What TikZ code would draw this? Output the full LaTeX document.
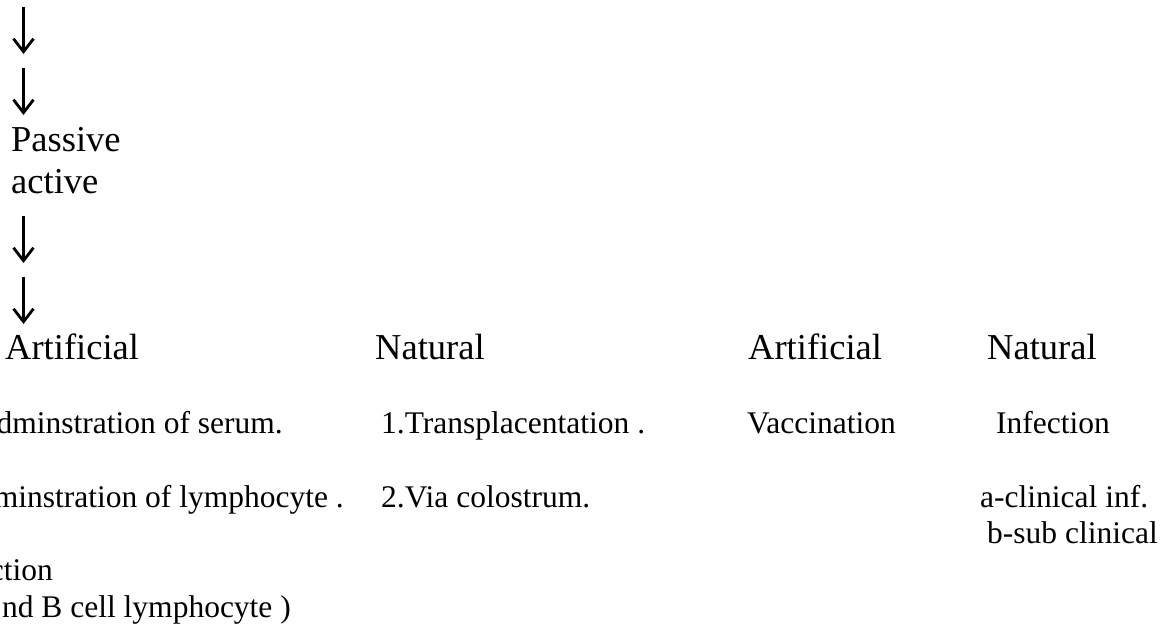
\documentclass[tikz,border=0pt]{standalone}
\usepackage{fontspec}
\setmainfont{Liberation Serif}
\usetikzlibrary{arrows.meta}
\tikzset{
  big/.style={inner sep=0pt, anchor=base west, font=\fontsize{36.5}{42}\selectfont},
  small/.style={inner sep=0pt, anchor=base west, font=\fontsize{31.5}{36}\selectfont},
  smallr/.style={inner sep=0pt, anchor=base east, font=\fontsize{31.5}{36}\selectfont},
  downarrow/.style={line width=2.3pt, -{Straight Barb[length=13pt,width=20pt,line width=2.8pt]}}
}
\begin{document}
\begin{tikzpicture}[x=1pt,y=-1pt]
\useasboundingbox (0,0) rectangle (1166,624);
% arrows
\coordinate (a1s) at (23.5,7);   \coordinate (a1e) at (23.5,54);
\coordinate (a2s) at (23.5,68);  \coordinate (a2e) at (23.5,115);
\coordinate (a3s) at (23.5,216); \coordinate (a3e) at (23.5,263);
\coordinate (a4s) at (23.5,277); \coordinate (a4e) at (23.5,324);
\draw[downarrow] (a1s) -- (a1e);
\draw[downarrow] (a2s) -- (a2e);
\draw[downarrow] (a3s) -- (a3e);
\draw[downarrow] (a4s) -- (a4e);
% headings
\node[big] (passive) at (11,151) {Passive};
\node[big] (active) at (11,193) {active};
\node[big] (art1) at (5,359) {Artificial};
\node[big] (nat1) at (375,359) {Natural};
\node[big] (art2) at (748,359) {Artificial};
\node[big] (nat2) at (987,359) {Natural};
% rows
\node[smallr] (serum) at (283,433) {dminstration of serum.};
\node[smallr] (lymph) at (344,507) {dminstration of lymphocyte .};
\node[smallr] (ction) at (53,580) {ction};
\node[smallr] (tb) at (291,617) {nd B cell lymphocyte )};
\node[small] (transp) at (381,433) {1.Transplacentation .};
\node[small] (colos) at (381,507) {2.Via colostrum.};
\node[small] (vacc) at (747,433) {Vaccination};
\node[small] (infec) at (996,433) {Infection};
\node[small] (aclin) at (980,507) {a-clinical inf.};
\node[small] (bsub) at (987,543) {b-sub clinical};
\end{tikzpicture}
\end{document}
